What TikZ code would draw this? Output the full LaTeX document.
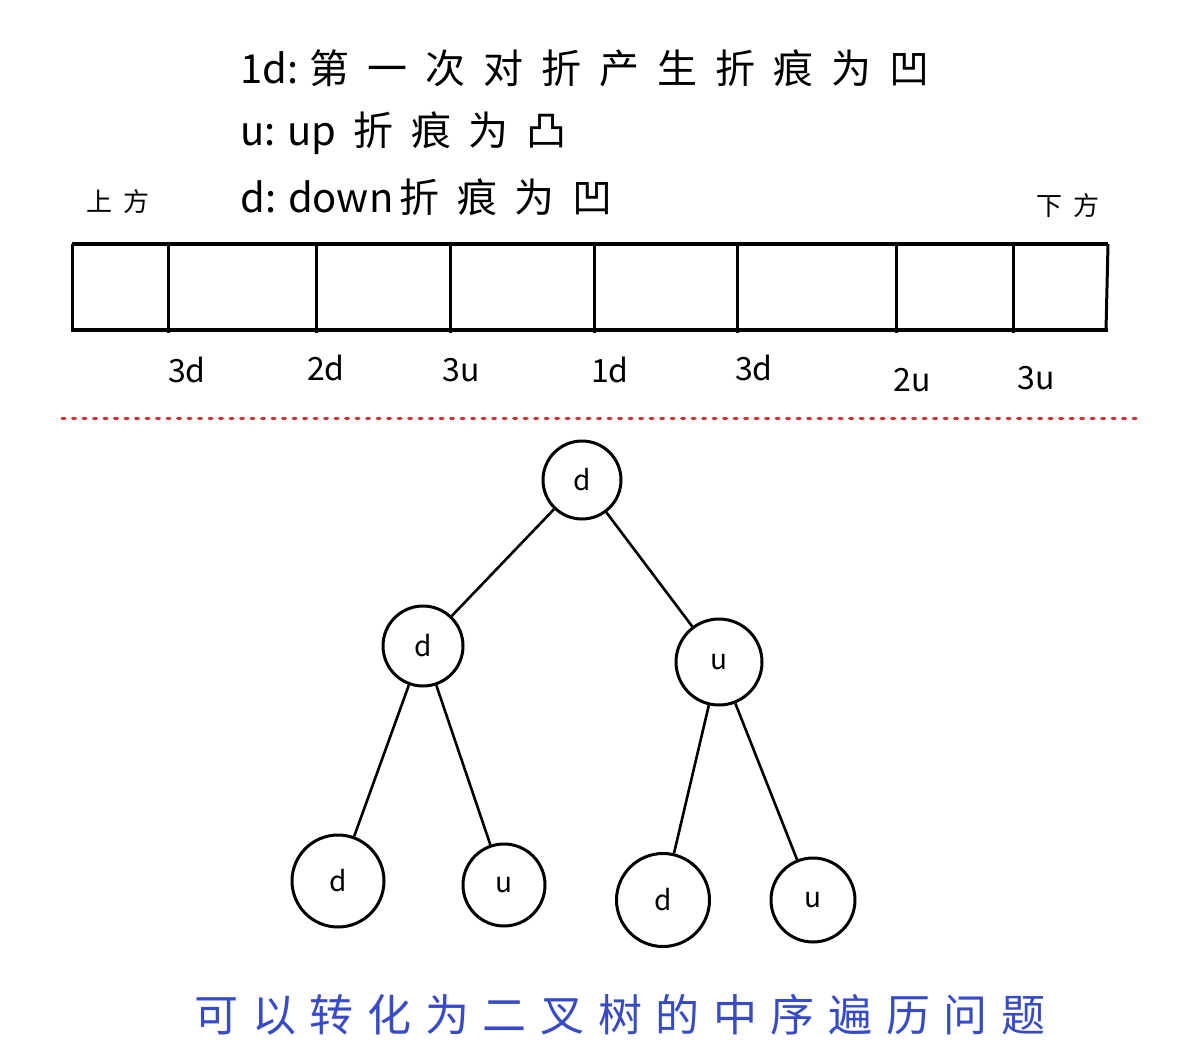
\documentclass[tikz,border=0pt]{standalone}
\usepackage{fontspec}
\setmainfont{Noto Sans CJK SC}
\newfontfamily\hand[LetterSpace=45]{Noto Sans CJK SC}
\newfontfamily\handb[LetterSpace=44]{Noto Sans CJK SC}
\newfontfamily\handcap[LetterSpace=31]{Noto Sans CJK SC}
\newfontfamily\handsm[LetterSpace=40]{Noto Sans CJK SC}
\newfontfamily\handlab{Noto Sans CJK SC}
\definecolor{inkblue}{RGB}{55,75,200}
\definecolor{dotred}{RGB}{215,50,50}
\tikzset{
  line/.style={line width=3pt, black},
  legend/.style={anchor=west, inner sep=0pt, font=\fontsize{40}{44}\selectfont},
  side/.style={inner sep=0pt, font=\handsm\fontsize{26}{30}\selectfont},
  cut/.style={inner sep=0pt, font=\handlab\fontsize{32}{36}\selectfont},
  tnode/.style={circle, draw, line width=3pt, inner sep=0pt, font=\handlab\fontsize{28}{32}\selectfont},
  edge/.style={line width=2.6pt, black},
}
\begin{document}
\begin{tikzpicture}[x=1pt, y=-1pt]
\path[use as bounding box, fill=white] (0,0) rectangle (1197,1060);

% legend
\node[legend] (l1) at (240,68) {{\handlab 1d:\hspace{11pt}}{\hand 第一次对折产生折痕为凹}};
\node[legend] (l2) at (240,133) {{\handlab u: up\hspace{17pt}}{\handb 折痕为凸}};
\node[legend] (l3) at (240,197) {{\handlab d: down\hspace{6pt}}{\handb 折痕为凹}};
\node[side] (top) at (118,202) {上方};
\node[side] (bot) at (1068,206) {下方};

% strip
\draw[line width=4pt] (72,244) -- (1108,244);
\draw[line width=4pt] (72,330) -- (1108,330);
\draw[line] (72,244) -- (72,332);
\draw[line] (1108,244) -- (1106,330);
\foreach \x in {168,316,450,594,737,896,1013} {
  \draw[line] (\x,246) -- (\x,333);
}

% crease labels
\node[cut] (c1) at (187,370) {3d};
\node[cut] (c2) at (326,368) {2d};
\node[cut] (c3) at (461,370) {3u};
\node[cut] (c4) at (610,370) {1d};
\node[cut] (c5) at (754,368) {3d};
\node[cut] (c6) at (912,380) {2u};
\node[cut] (c7) at (1036,378) {3u};

% separator
\draw[dotred, line width=3pt, dash pattern=on 3pt off 7.5pt, line cap=round] (62,418) -- (1137,418);

% tree
\node[tnode, minimum size=78pt] (r) at (582,480) {d};
\node[tnode, minimum size=80pt] (a) at (423,646) {d};
\node[tnode, minimum size=86pt] (b) at (719,662) {u};
\node[tnode, minimum size=92pt] (a1) at (338,881) {d};
\node[tnode, minimum size=82pt] (a2) at (504,885) {u};
\node[tnode, minimum size=93pt] (b1) at (663,900) {d};
\node[tnode, minimum size=84pt] (b2) at (813,900) {u};
\draw[edge] (r) -- (a);
\draw[edge] (r) -- (b);
\draw[edge] (a) -- (a1);
\draw[edge] (a) -- (a2);
\draw[edge] (b) -- (b1);
\draw[edge] (b) -- (b2);

% caption
\node[inner sep=0pt, text=inkblue, font=\handcap\fontsize{44}{48}\selectfont] (cap) at (620,1015) {可以转化为二叉树的中序遍历问题};
\end{tikzpicture}
\end{document}
